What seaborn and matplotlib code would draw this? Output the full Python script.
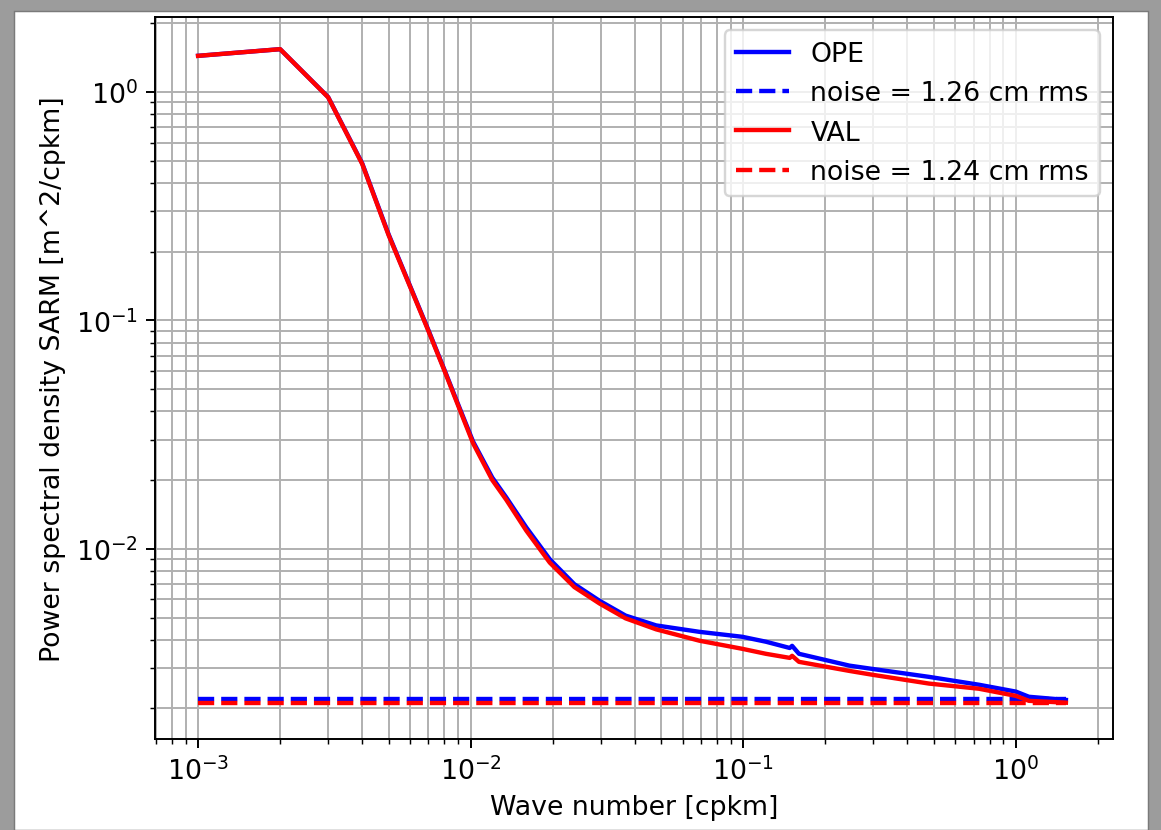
import numpy as np
import pandas as pd
import matplotlib
matplotlib.use("Agg")
import matplotlib.pyplot as plt
from matplotlib.patches import Rectangle
import seaborn as sns

# Values (wave number in cpkm, PSD in m^2/cpkm)
wavenumber = [0.001, 0.002, 0.003, 0.004, 0.005, 0.006, 0.007, 0.008, 0.009,
              0.0102, 0.012, 0.0135, 0.016, 0.0195, 0.024, 0.0297, 0.037, 0.0479,
              0.069, 0.099, 0.121, 0.148, 0.151, 0.160, 0.245, 0.297, 0.480,
              0.732, 1.0, 1.116, 1.525]
psd_ope = [1.44, 1.54, 0.95, 0.487, 0.238, 0.141, 0.0905, 0.0610, 0.0428,
           0.0295, 0.0205, 0.0168, 0.0124, 0.0090, 0.0070, 0.00592, 0.00510,
           0.00462, 0.00433, 0.00412, 0.00392, 0.00368, 0.00376, 0.00347,
           0.00308, 0.00298, 0.00275, 0.00254, 0.00237, 0.00225, 0.00218]
psd_val = [1.44, 1.54, 0.948, 0.484, 0.236, 0.140, 0.0898, 0.0605, 0.0423,
           0.0290, 0.0200, 0.0164, 0.0120, 0.0087, 0.00680, 0.00576, 0.00496,
           0.00444, 0.00396, 0.00365, 0.00347, 0.00333, 0.00340, 0.00320,
           0.00292, 0.00281, 0.00257, 0.00244, 0.00227, 0.00216, 0.00212]
noise_ope = 2.19e-3   # noise = 1.26 cm rms
noise_val = 2.12e-3   # noise = 1.24 cm rms

df = pd.DataFrame({'k': wavenumber, 'OPE': psd_ope, 'VAL': psd_val})
df['noise_ope'] = noise_ope
df['noise_val'] = noise_val

plt.rcParams['font.size'] = 11

fig = plt.figure(figsize=(1161 / 175, 831 / 175), dpi=175, facecolor='#9c9c9c')
# white sheet inside the grey screenshot frame (drawn behind the axes)
fig.patches.append(Rectangle((14 / 1161, 0), 1134 / 1161, 819 / 831,
                             transform=fig.transFigure, facecolor='white',
                             edgecolor='#7a7a7a', lw=0.6, zorder=-10))
ax = fig.add_axes([155 / 1161, 1 - 740 / 831, 958 / 1161, 722 / 831])

lw = 1.8
sns.lineplot(data=df, x='k', y='OPE', color='blue', lw=lw, label='OPE', ax=ax)
sns.lineplot(data=df, x='k', y='noise_ope', color='blue', lw=lw, linestyle='--',
             label='noise = 1.26 cm rms', ax=ax)
sns.lineplot(data=df, x='k', y='VAL', color='red', lw=lw, label='VAL', ax=ax)
sns.lineplot(data=df, x='k', y='noise_val', color='red', lw=lw, linestyle='--',
             label='noise = 1.24 cm rms', ax=ax)

ax.set_xscale('log')
ax.set_yscale('log')
ax.set_xlim(6.95e-4, 2.27)
ax.set_ylim(1.47e-3, 2.13)
ax.grid(True, which='both')
ax.set_xlabel('Wave number [cpkm]')
ax.set_ylabel('Power spectral density SARM [m^2/cpkm]')
ax.legend(loc='upper right')

fig.savefig('out.png', dpi=175, facecolor=fig.get_facecolor())
